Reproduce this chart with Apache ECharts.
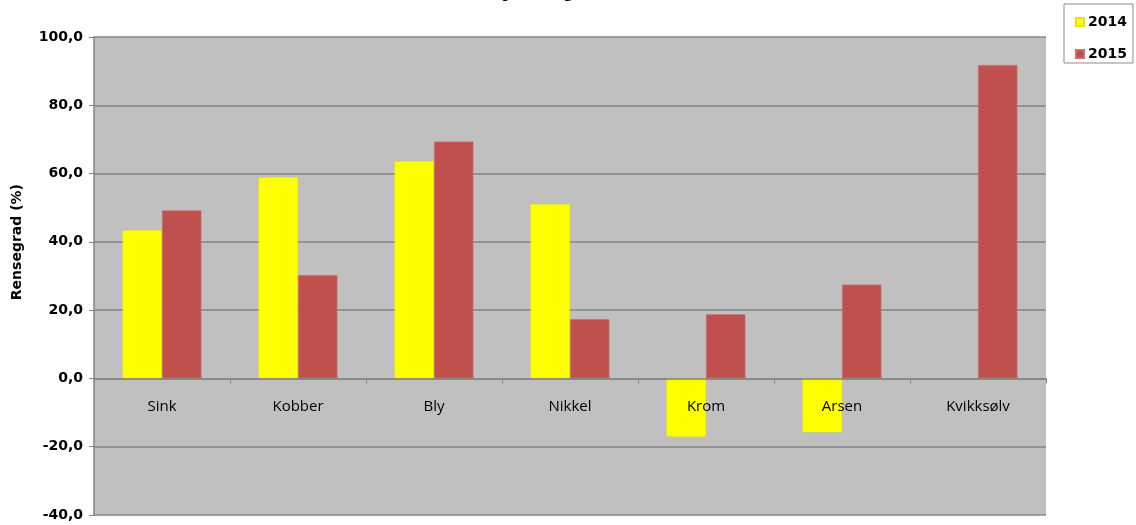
<!DOCTYPE html>
<html>
<head>
<meta charset="utf-8">
<script src="https://cdn.jsdelivr.net/npm/echarts@6/dist/echarts.min.js"></script>
<style>
  html, body { margin: 0; padding: 0; background: #fff; }
  #chart { width: 1136px; height: 525px; }
</style>
</head>
<body>
<div id="chart"></div>
<script>
// Metals and removal efficiency (%) per year
const categories = ['Sink', 'Kobber', 'Bly', 'Nikkel', 'Krom', 'Arsen', 'Kvikksølv'];
const values2014 = [43.4, 58.9, 63.6, 51.0, -17.1, -15.8, null];
const values2015 = [49.2, 30.3, 69.4, 17.4, 18.8, 27.5, 91.8];
const yearNames = ['2014', '2015'];
const yTicks = { min: -40, max: 100, interval: 20 };

const chart = echarts.init(document.getElementById('chart'), null, { renderer: 'canvas' });

const barCommon = {
  type: 'bar',
  barGap: '0%',
  barCategoryGap: '42%',
  z: 2
};

const axisGray = '#858585';

chart.setOption({
  animation: false,
  title: {
    text: 'Renseeffekt per år og metall',
    left: 408,
    top: -17,
    padding: 0,
    textStyle: { fontFamily: 'Liberation Serif', fontWeight: 'bold', fontSize: 18, color: '#000' }
  },
  legend: {
    orient: 'vertical',
    left: 1064,
    top: 4,
    padding: [11, 6, 2, 11],
    itemGap: 18,
    itemWidth: 8,
    itemHeight: 8,
    icon: 'rect',
    borderColor: '#8c8c8c',
    borderWidth: 1,
    data: yearNames,
    textStyle: { fontFamily: 'DejaVu Sans', fontWeight: 'bold', fontSize: 14, color: '#000', padding: [0, 0, 0, -1] }
  },
  grid: {
    left: 94,
    right: 90,
    top: 37,
    bottom: 10,
    containLabel: false,
    outerBoundsMode: 'none',
    show: true,
    backgroundColor: '#c0c0c0',
    borderWidth: 0
  },
  graphic: [{
    id: 'yName',
    type: 'text',
    left: 10,
    top: 184,
    rotation: Math.PI / 2,
    style: {
      text: 'Rensegrad (%)',
      font: 'bold 14px "DejaVu Sans"',
      fill: '#000'
    }
  }],
  xAxis: {
    type: 'category',
    data: categories,
    z: 5,
    axisLine: { onZero: false, lineStyle: { color: axisGray, width: 1.5 } },
    axisTick: { show: true, length: 5, lineStyle: { color: axisGray } },
    axisLabel: { margin: 21, fontFamily: 'Open Sans', fontSize: 15, color: '#000' },
    splitLine: { show: false }
  },
  yAxis: {
    type: 'value',
    min: yTicks.min,
    max: yTicks.max,
    interval: yTicks.interval,
    axisLine: { show: true, lineStyle: { color: axisGray, width: 1.5 } },
    axisTick: { show: true, length: 5, lineStyle: { color: axisGray } },
    axisLabel: {
      margin: 11,
      fontFamily: 'DejaVu Sans',
      fontWeight: 'bold',
      fontSize: 14,
      color: '#000',
      formatter: v => v.toFixed(1).replace('.', ',')
    },
    splitLine: { show: true, lineStyle: { color: axisGray, width: 1.5 } }
  },
  series: [
    Object.assign({}, barCommon, {
      name: yearNames[0],
      data: values2014,
      itemStyle: { color: '#ffff00', borderColor: '#e6e600', borderWidth: 0.5 }
    }),
    Object.assign({}, barCommon, {
      name: yearNames[1],
      data: values2015,
      itemStyle: { color: '#c0504d', borderColor: '#c96f6c', borderWidth: 0.8 }
    })
  ]
});

// Move the category axis (line, ticks and labels) up to the zero level of the value axis
const zeroY = chart.convertToPixel({ yAxisIndex: 0 }, 0);
const bottomY = chart.convertToPixel({ yAxisIndex: 0 }, yTicks.min);
chart.setOption({ xAxis: { offset: zeroY - bottomY } });
</script>
</body>
</html>
